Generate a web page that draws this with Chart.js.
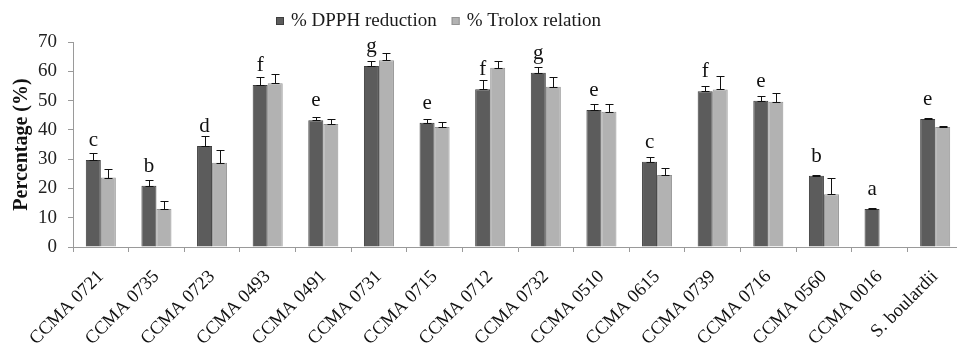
<!DOCTYPE html>
<html>
<head>
<meta charset="utf-8">
<script src="https://cdn.jsdelivr.net/npm/chart.js@4.4.1/dist/chart.umd.min.js"></script>
<style>
  html, body { margin: 0; padding: 0; background: #fff; overflow: hidden; }
  #wrap { width: 964px; height: 345px; }
  canvas { display: block; }
</style>
</head>
<body>
<div id="wrap"><canvas id="c" width="964" height="345" style="width:964px;height:345px"></canvas></div>
<script>
const categories = ["CCMA 0721","CCMA 0735","CCMA 0723","CCMA 0493","CCMA 0491","CCMA 0731","CCMA 0715","CCMA 0712","CCMA 0732","CCMA 0510","CCMA 0615","CCMA 0739","CCMA 0716","CCMA 0560","CCMA 0016","S. boulardii"];
const seriesNames = ["% DPPH reduction", "% Trolox relation"];
const dpph      = [29.7, 20.9, 34.5, 55.3, 43.3, 61.8, 42.4, 53.9, 59.5, 46.8, 29.1, 53.2, 49.9, 24.3, 13.0, 43.7];
const dpphErr   = [2.3, 2.0, 3.5, 2.8, 1.2, 1.8, 1.3, 3.0, 2.0, 2.2, 1.7, 1.9, 1.7, 0.3, 0.3, 0.3];
const trolox    = [23.7, 13.0, 28.8, 55.9, 42.0, 63.8, 41.0, 61.2, 54.7, 46.2, 24.6, 53.8, 49.6, 18.0, null, 41.0];
const troloxErr = [3.0, 2.8, 4.3, 3.1, 1.7, 2.6, 1.6, 2.3, 3.5, 2.5, 2.3, 4.6, 2.9, 5.5, null, 0.3];
const letters   = ["c","b","d","f","e","g","e","f","g","e","c","f","e","b","a","e"];
const yTicks    = [0, 10, 20, 30, 40, 50, 60, 70];

const SERIF = "'Liberation Serif', 'Times New Roman', serif";
const errors = [dpphErr, troloxErr];

const errorBarPlugin = {
  id: 'errorBars',
  afterDatasetsDraw(chart) {
    const ctx = chart.ctx;
    const yScale = chart.scales.y;
    ctx.save();
    ctx.strokeStyle = '#111';
    ctx.lineWidth = 1;
    chart.data.datasets.forEach((ds, di) => {
      const meta = chart.getDatasetMeta(di);
      meta.data.forEach((bar, j) => {
        const v = ds.data[j];
        const e = errors[di][j];
        if (v === null || e === null) return;
        const x = Math.round(bar.x) + 0.5;
        const yTop = Math.round(yScale.getPixelForValue(v + e)) + 0.5;
        const yVal = Math.round(yScale.getPixelForValue(v)) + 0.5;
        ctx.beginPath();
        ctx.moveTo(x, yVal); ctx.lineTo(x, yTop);
        ctx.moveTo(x - 4, yTop); ctx.lineTo(x + 4, yTop);
        ctx.moveTo(x - 4, yVal); ctx.lineTo(x + 4, yVal);
        ctx.stroke();
      });
    });
    ctx.restore();
  }
};

const letterPlugin = {
  id: 'letters',
  afterDatasetsDraw(chart) {
    const ctx = chart.ctx;
    const meta = chart.getDatasetMeta(0);
    ctx.save();
    ctx.fillStyle = '#111';
    ctx.font = "21px " + SERIF;
    ctx.textAlign = 'center';
    ctx.textBaseline = 'alphabetic';
    meta.data.forEach((bar, j) => {
      ctx.fillText(letters[j], bar.x, bar.y - 14);
    });
    ctx.restore();
  }
};

const legendPlugin = {
  id: 'customLegend',
  afterDraw(chart) {
    const ctx = chart.ctx;
    ctx.save();
    ctx.font = "19px " + SERIF;
    ctx.textBaseline = 'middle';
    ctx.textAlign = 'left';
    let x = 276;
    const y = 21;
    chart.data.datasets.forEach((ds) => {
      ctx.fillStyle = ds.backgroundColor;
      ctx.fillRect(x, y - 4, 8, 8);
      ctx.strokeStyle = ds.borderColor;
      ctx.lineWidth = 1;
      ctx.strokeRect(x + 0.5, y - 3.5, 7, 7);
      ctx.fillStyle = '#1a1a1a';
      ctx.fillText(ds.label, x + 15, y);
      x += 15 + ctx.measureText(ds.label).width + 15;
    });
    ctx.restore();
  }
};

new Chart(document.getElementById('c'), {
  type: 'bar',
  data: {
    labels: categories,
    datasets: [
      { label: seriesNames[0], data: dpph, backgroundColor: '#5c5c5c', borderColor: '#3e3e3e', borderWidth: 1,
        categoryPercentage: 0.54, barPercentage: 1.0 },
      { label: seriesNames[1], data: trolox, backgroundColor: '#b2b2b2', borderColor: '#939393', borderWidth: 1,
        categoryPercentage: 0.54, barPercentage: 1.0 }
    ]
  },
  options: {
    responsive: false,
    animation: false,
    devicePixelRatio: 1,
    layout: { padding: { top: 42, left: 0, right: 1, bottom: 0 } },
    plugins: { legend: { display: false }, tooltip: { enabled: false } },
    scales: {
      x: {
        grid: { display: true, drawOnChartArea: false, drawTicks: true, tickLength: 5, color: '#9a9a9a', offset: true },
        border: { display: true, color: '#9a9a9a' },
        ticks: { autoSkip: false, maxRotation: 45, minRotation: 45, padding: 14, color: '#111',
                 font: { family: SERIF, size: 18.5 } },
        afterFit(s) { s.height = 98; s.paddingLeft = 0; s.paddingRight = 0; }
      },
      y: {
        min: 0, max: 70,
        afterBuildTicks(s) { s.ticks = yTicks.map(v => ({ value: v })); },
        grid: { display: true, drawOnChartArea: false, drawTicks: true, tickLength: 5, color: '#9a9a9a' },
        border: { display: true, color: '#9a9a9a' },
        ticks: { padding: 11, color: '#222', font: { family: SERIF, size: 19 } },
        title: { display: true, text: 'Percentage (%)', color: '#111',
                 font: { family: SERIF, size: 20, weight: 'bold' }, padding: { top: 10, bottom: 0 } },
        afterFit(s) { s.width = 73; }
      }
    }
  },
  plugins: [errorBarPlugin, letterPlugin, legendPlugin]
});
</script>
</body>
</html>
